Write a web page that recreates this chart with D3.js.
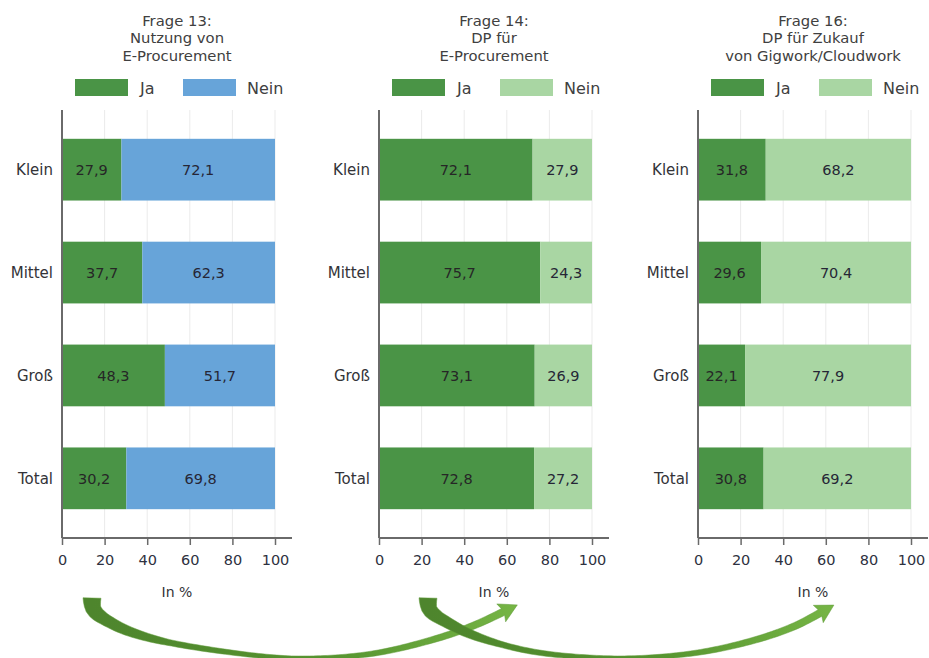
<!DOCTYPE html>
<html>
<head>
<meta charset="utf-8">
<script src="https://cdn.jsdelivr.net/npm/d3@7"></script>
<style>
  html, body { margin: 0; padding: 0; background: #fff; }
  svg { display: block; font-family: "DejaVu Sans", sans-serif; }
</style>
</head>
<body>
<svg id="chart" width="929" height="658"></svg>
<script>
// ---------------- data ----------------
const categories = ["Klein", "Mittel", "Groß", "Total"];
const seriesNames = ["Ja", "Nein"];
const tickValues = [0, 20, 40, 60, 80, 100];
const axisTitle = "In %";

const title13 = ["Frage 13:", "Nutzung von", "E-Procurement"];
const title14 = ["Frage 14:", "DP für", "E-Procurement"];
const title16 = ["Frage 16:", "DP für Zukauf", "von Gigwork/Cloudwork"];

const q13Ja   = [27.9, 37.7, 48.3, 30.2];
const q13Nein = [72.1, 62.3, 51.7, 69.8];
const q14Ja   = [72.1, 75.7, 73.1, 72.8];
const q14Nein = [27.9, 24.3, 26.9, 27.2];
const q16Ja   = [31.8, 29.6, 22.1, 30.8];
const q16Nein = [68.2, 70.4, 77.9, 69.2];

// ---------------- styles / layout ----------------
const colJa = "#4a9446";
const colNeinBlue = "#67a4d9";
const colNeinGreen = "#a9d6a3";
const textCol = "#333338";

const panels = [
  { title: title13, ja: q13Ja, nein: q13Nein, neinCol: colNeinBlue, x0: 62 },
  { title: title14, ja: q14Ja, nein: q14Nein, neinCol: colNeinGreen, x0: 379 },
  { title: title16, ja: q16Ja, nein: q16Nein, neinCol: colNeinGreen, x0: 698 }
];
const plotW = 213, axisExt = 17, plotTop = 110, plotBottom = 538;

const fmt = v => d3.format(".1f")(v).replace(".", ",");
const svg = d3.select("#chart");

// ---------------- panels ----------------
panels.forEach(p => {
  const g = svg.append("g");
  const x = d3.scaleLinear().domain([0, 100]).range([p.x0, p.x0 + plotW]);
  const y = d3.scaleBand().domain(categories).range([plotTop, plotBottom])
    .paddingInner(0.4).paddingOuter(0.28);
  const cx = (p.x0 + p.x0 + plotW + axisExt) / 2;

  // title
  g.append("text").attr("text-anchor", "middle").attr("fill", "#404040")
    .attr("font-size", 14.8)
    .selectAll("tspan").data(p.title).join("tspan")
    .attr("x", cx).attr("y", (d, i) => 26 + i * 17.3).text(d => d);

  // legend
  const legCols = [colJa, p.neinCol];
  const lg = g.selectAll(".leg").data(seriesNames).join("g");
  lg.append("rect")
    .attr("x", (d, i) => p.x0 + 13 + i * 108).attr("y", 79)
    .attr("width", 53).attr("height", 17)
    .attr("fill", (d, i) => legCols[i]);
  lg.append("text")
    .attr("x", (d, i) => p.x0 + 78 + i * 107).attr("y", 88)
    .attr("dy", "0.36em").attr("font-size", 16).attr("fill", "#404040")
    .text(d => d);

  // gridlines
  g.append("g").selectAll("line").data(tickValues.slice(1)).join("line")
    .attr("x1", d => x(d)).attr("x2", d => x(d))
    .attr("y1", plotTop).attr("y2", plotBottom)
    .attr("stroke", "#ebebeb").attr("stroke-width", 1);

  // bars
  const rows = categories.map((c, i) => ({ c, ja: p.ja[i], nein: p.nein[i] }));
  const rg = g.append("g").selectAll("g").data(rows).join("g");
  rg.append("rect").attr("x", x(0)).attr("y", d => y(d.c))
    .attr("width", d => x(d.ja) - x(0)).attr("height", y.bandwidth())
    .attr("fill", colJa);
  rg.append("rect").attr("x", d => x(d.ja)).attr("y", d => y(d.c))
    .attr("width", d => x(d.ja + d.nein) - x(d.ja)).attr("height", y.bandwidth())
    .attr("fill", p.neinCol);
  rg.append("text").attr("x", d => x(d.ja / 2)).attr("y", d => y(d.c) + y.bandwidth() / 2)
    .attr("dy", "0.36em").attr("text-anchor", "middle").attr("font-size", 14.5)
    .attr("fill", "#262626").text(d => fmt(d.ja));
  rg.append("text").attr("x", d => x(d.ja + d.nein / 2)).attr("y", d => y(d.c) + y.bandwidth() / 2)
    .attr("dy", "0.36em").attr("text-anchor", "middle").attr("font-size", 14.5)
    .attr("fill", "#262636").text(d => fmt(d.nein));

  // category labels
  g.append("g").selectAll("text").data(categories).join("text")
    .attr("x", p.x0 - 9).attr("y", d => y(d) + y.bandwidth() / 2)
    .attr("dy", "0.36em").attr("text-anchor", "end").attr("font-size", 15)
    .attr("fill", textCol).text(d => d);

  // axes
  g.append("line").attr("x1", p.x0).attr("x2", p.x0)
    .attr("y1", plotTop).attr("y2", plotBottom)
    .attr("stroke", "#6a6a6a").attr("stroke-width", 2);
  const xAxis = d3.axisBottom(x).tickValues(tickValues).tickSize(7).tickSizeOuter(0)
    .tickFormat(d3.format("d"));
  const ax = g.append("g").attr("transform", `translate(0,${plotBottom})`).call(xAxis);
  ax.select(".domain").remove();
  ax.append("line").attr("x1", p.x0).attr("x2", p.x0 + plotW + axisExt)
    .attr("y1", 0).attr("y2", 0).attr("stroke", "#6a6a6a").attr("stroke-width", 2);
  ax.selectAll(".tick line").attr("stroke", "#6a6a6a").attr("stroke-width", 1.5);
  ax.selectAll(".tick text").attr("font-size", 14.5).attr("fill", "#2e3140")
    .attr("font-family", "DejaVu Sans, sans-serif").attr("y", 17);
  g.append("text").attr("x", cx).attr("y", 597).attr("text-anchor", "middle")
    .attr("font-size", 14).attr("fill", textCol).text(axisTitle);
});

// ---------------- decorative arrows ----------------
const defs = svg.append("defs");
function addGrad(id, x1, x2) {
  const gr = defs.append("linearGradient").attr("id", id)
    .attr("gradientUnits", "userSpaceOnUse")
    .attr("x1", x1).attr("x2", x2).attr("y1", 0).attr("y2", 0);
  gr.append("stop").attr("offset", "0%").attr("stop-color", "#4e852d");
  gr.append("stop").attr("offset", "55%").attr("stop-color", "#55932f");
  gr.append("stop").attr("offset", "100%").attr("stop-color", "#76b545");
}
function drawArrow(pts, id) {
  addGrad(id, pts[0][0], pts[pts.length - 1][0] + 15);
  const tmp = svg.append("path").attr("d", d3.line().curve(d3.curveCatmullRom)(pts))
    .attr("fill", "none");
  const node = tmp.node();
  const L = node.getTotalLength();
  const wid = d3.scaleLinear().domain([0, 0.06, 0.22, 0.5, 1]).range([18, 12, 6, 4, 7.5]);
  const N = 120, left = [], right = [];
  let lastD = [1, 0];
  for (let i = 0; i <= N; i++) {
    const t = i / N, s = t * L;
    const a = node.getPointAtLength(Math.max(0, s - 0.5));
    const b = node.getPointAtLength(Math.min(L, s + 0.5));
    const p = node.getPointAtLength(s);
    let dx = b.x - a.x, dy = b.y - a.y;
    const m = Math.hypot(dx, dy) || 1; dx /= m; dy /= m;
    lastD = [dx, dy];
    const nx = -dy, ny = dx, w = wid(t) / 2;
    left.push([p.x + nx * w, p.y + ny * w]);
    right.push([p.x - nx * w, p.y - ny * w]);
  }
  tmp.remove();
  const end = node.getPointAtLength(L);
  const [dx, dy] = lastD, nx = -dy, ny = dx;
  const tip = [end.x + dx * 16, end.y + dy * 16];
  const c1 = [end.x + nx * 10 - dx * 2, end.y + ny * 10 - dy * 2];
  const c2 = [end.x - nx * 10 - dx * 2, end.y - ny * 10 - dy * 2];
  const shape = left.concat([c1, tip, c2]).concat(right.slice().reverse());
  svg.append("path").attr("d", "M" + shape.map(q => q.join(",")).join("L") + "Z")
    .attr("fill", `url(#${id})`).attr("stroke", "#5e9a38").attr("stroke-width", 0.5)
    .attr("stroke-linejoin", "round");
}
drawArrow([[92, 598], [94, 610], [115, 625], [150, 638], [220, 651], [295, 658],
           [370, 654], [435, 639], [475, 625], [503, 612]], "ag1");
drawArrow([[428, 598], [430, 610], [450, 624], [478, 637], [535, 652], [620, 658],
           [695, 653], [755, 640], [795, 626], [820, 613]], "ag2");
</script>
</body>
</html>
